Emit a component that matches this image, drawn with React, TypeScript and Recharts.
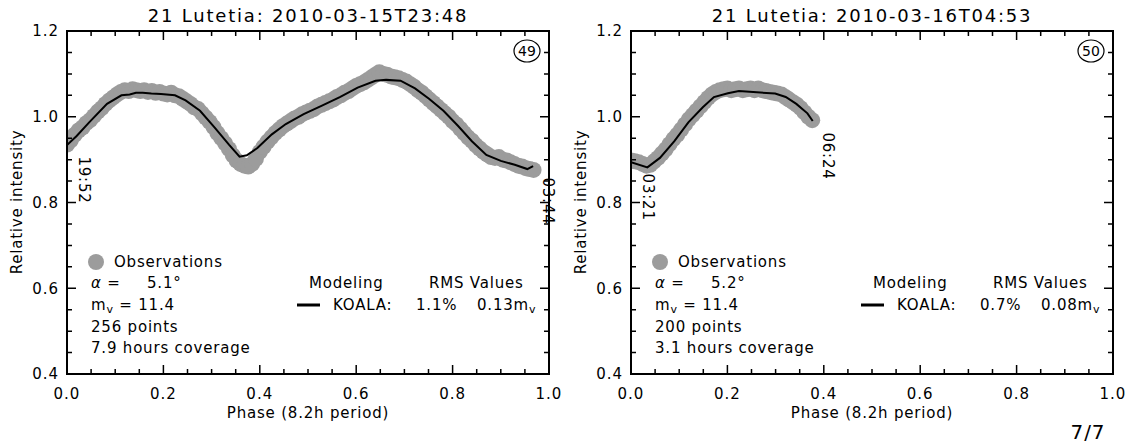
import { ComposedChart, Scatter, XAxis, YAxis, ReferenceDot } from "recharts";

// phase, relative intensity
const obs49: [number, number][] = [
  [0.0, 0.935], [0.008, 0.945], [0.016, 0.958], [0.024, 0.968], [0.032, 0.975], [0.04, 0.985],
  [0.048, 0.992], [0.056, 1.002], [0.064, 1.012], [0.072, 1.02], [0.08, 1.03], [0.088, 1.038],
  [0.096, 1.045], [0.104, 1.052], [0.112, 1.058], [0.12, 1.062], [0.128, 1.06], [0.136, 1.064],
  [0.144, 1.062], [0.152, 1.06], [0.16, 1.062], [0.168, 1.058], [0.176, 1.06], [0.184, 1.056],
  [0.192, 1.058], [0.2, 1.054], [0.208, 1.052], [0.216, 1.056], [0.224, 1.05], [0.232, 1.048],
  [0.24, 1.042], [0.248, 1.036], [0.256, 1.03], [0.264, 1.022], [0.272, 1.018], [0.28, 1.008],
  [0.288, 0.998], [0.296, 0.988], [0.304, 0.976], [0.312, 0.962], [0.32, 0.95], [0.328, 0.938],
  [0.336, 0.925], [0.344, 0.91], [0.352, 0.898], [0.36, 0.89], [0.368, 0.886], [0.376, 0.884],
  [0.384, 0.89], [0.392, 0.902], [0.4, 0.918], [0.408, 0.93], [0.416, 0.942], [0.424, 0.952],
  [0.432, 0.962], [0.44, 0.97], [0.448, 0.978], [0.456, 0.984], [0.464, 0.99], [0.472, 0.996],
  [0.48, 1.0], [0.488, 1.006], [0.496, 1.01], [0.504, 1.014], [0.512, 1.018], [0.52, 1.024],
  [0.528, 1.028], [0.536, 1.032], [0.544, 1.036], [0.552, 1.04], [0.56, 1.046], [0.568, 1.05],
  [0.576, 1.056], [0.584, 1.06], [0.592, 1.066], [0.6, 1.072], [0.608, 1.076], [0.616, 1.08],
  [0.624, 1.086], [0.632, 1.092], [0.64, 1.098], [0.648, 1.104], [0.656, 1.1], [0.664, 1.098],
  [0.672, 1.094], [0.68, 1.092], [0.688, 1.09], [0.696, 1.086], [0.704, 1.082], [0.712, 1.076],
  [0.72, 1.07], [0.728, 1.062], [0.736, 1.056], [0.744, 1.048], [0.752, 1.04], [0.76, 1.032],
  [0.768, 1.024], [0.776, 1.016], [0.784, 1.008], [0.792, 1.0], [0.8, 0.99], [0.808, 0.982],
  [0.816, 0.972], [0.824, 0.962], [0.832, 0.952], [0.84, 0.944], [0.848, 0.934], [0.856, 0.926],
  [0.864, 0.918], [0.872, 0.912], [0.88, 0.906], [0.888, 0.904], [0.896, 0.906], [0.904, 0.9],
  [0.912, 0.898], [0.92, 0.894], [0.928, 0.89], [0.936, 0.886], [0.944, 0.884], [0.952, 0.88],
  [0.96, 0.878], [0.968, 0.876],
];

const model49: [number, number][] = [
  [0.0, 0.934], [0.02, 0.955], [0.046, 0.987], [0.083, 1.03], [0.113, 1.05], [0.13, 1.052],
  [0.143, 1.056], [0.157, 1.056], [0.175, 1.054], [0.195, 1.053], [0.224, 1.05], [0.246, 1.038],
  [0.276, 1.014], [0.306, 0.975], [0.336, 0.935], [0.358, 0.907], [0.373, 0.91], [0.395, 0.927],
  [0.425, 0.959], [0.454, 0.983], [0.491, 1.006], [0.529, 1.026], [0.566, 1.046], [0.603, 1.068],
  [0.64, 1.084], [0.662, 1.086], [0.692, 1.084], [0.722, 1.066], [0.751, 1.042], [0.781, 1.014],
  [0.811, 0.979], [0.84, 0.943], [0.87, 0.911], [0.9, 0.897], [0.929, 0.888], [0.955, 0.878],
  [0.967, 0.885],
];

const obs50: [number, number][] = [
  [0.0, 0.898], [0.008, 0.896], [0.016, 0.894], [0.024, 0.89], [0.032, 0.886], [0.04, 0.888],
  [0.048, 0.896], [0.056, 0.904], [0.064, 0.914], [0.072, 0.924], [0.08, 0.936], [0.088, 0.948],
  [0.096, 0.958], [0.104, 0.97], [0.112, 0.982], [0.12, 0.994], [0.128, 1.004], [0.136, 1.014],
  [0.144, 1.024], [0.152, 1.034], [0.16, 1.044], [0.168, 1.052], [0.176, 1.058], [0.184, 1.062],
  [0.192, 1.064], [0.2, 1.066], [0.208, 1.062], [0.216, 1.064], [0.224, 1.066], [0.232, 1.062],
  [0.24, 1.064], [0.248, 1.066], [0.256, 1.062], [0.264, 1.066], [0.272, 1.062], [0.28, 1.06],
  [0.288, 1.058], [0.296, 1.056], [0.304, 1.054], [0.312, 1.052], [0.32, 1.046], [0.328, 1.04],
  [0.336, 1.034], [0.344, 1.028], [0.352, 1.02], [0.36, 1.01], [0.368, 1.0], [0.376, 0.992],
];

const model50: [number, number][] = [
  [0.0, 0.894], [0.034, 0.882], [0.06, 0.904], [0.09, 0.943], [0.119, 0.987], [0.149, 1.022],
  [0.172, 1.046], [0.201, 1.055], [0.224, 1.06], [0.261, 1.057], [0.299, 1.054], [0.321, 1.046],
  [0.343, 1.03], [0.366, 1.008], [0.377, 0.99],
];

const titles = ["21 Lutetia: 2010-03-15T23:48", "21 Lutetia: 2010-03-16T04:53"];
const panelIds = ["49", "50"];
const timeLabels = [["19:52", "03:44"], ["03:21", "06:24"]];
const alphas = ["5.1°", "5.2°"];
const magnitudes = ["11.4", "11.4"];
const pointCounts = ["256 points", "200 points"];
const coverage = ["7.9 hours coverage", "3.1 hours coverage"];
const rmsPercent = ["1.1%", "0.7%"];
const rmsMag = ["0.13", "0.08"];

const xTicks = [0, 0.05, 0.1, 0.15, 0.2, 0.25, 0.3, 0.35, 0.4, 0.45, 0.5, 0.55, 0.6, 0.65, 0.7, 0.75, 0.8, 0.85, 0.9, 0.95, 1.0];
const xLabelled = [0, 0.2, 0.4, 0.6, 0.8, 1.0];
const yTicks = [0.4, 0.45, 0.5, 0.55, 0.6, 0.65, 0.7, 0.75, 0.8, 0.85, 0.9, 0.95, 1.0, 1.05, 1.1, 1.15, 1.2];
const yLabelled = [0.4, 0.6, 0.8, 1.0, 1.2];

const F = "'DejaVu Sans', sans-serif";
const W = 566;
const H = 447;
const M = { top: 31, right: 17, bottom: 43, left: 0 };
const YW = 67;
const XH = 30;
const PW = W - M.right - M.left - YW;
const PH = H - M.top - M.bottom - XH;
const X_MARGIN = 14;
const Y_MARGIN = 8;
const MAJOR = 9;
const MINOR = 5;
const GREY = "#9c9c9c";
const chartLefts = [0, 564];

const toPts = (a: [number, number][]) => a.map(([p, v]) => ({ p, v }));
const noDot = () => <g />;
const near = (a: number, b: number) => Math.abs(a - b) < 1e-6;
const isLabelled = (list: number[], v: number) => list.some((t) => near(t, v));

// x tick: label below, inward tick marks at bottom and top of the box
function XTick(props: any) {
  const { x, y, payload } = props;
  const base = y - X_MARGIN;
  const top = base - PH;
  const major = isLabelled(xLabelled, payload.value);
  const len = major ? MAJOR : MINOR;
  return (
    <g>
      <path d={`M${x},${base}V${base - len}M${x},${top}V${top + len}`} stroke="#000" strokeWidth={1.5} fill="none" />
      {major && (
        <text x={x} y={y} dy="0.71em" textAnchor="middle" fontFamily={F} fontSize={15} letterSpacing={1} fill="#000">
          {payload.value.toFixed(1)}
        </text>
      )}
    </g>
  );
}

// y tick: label on the left, inward tick marks on left and right of the box
function YTick(props: any) {
  const { x, y, payload } = props;
  const base = x + Y_MARGIN;
  const major = isLabelled(yLabelled, payload.value);
  const len = major ? MAJOR : MINOR;
  return (
    <g>
      <path d={`M${base},${y}H${base + len}M${base + PW},${y}H${base + PW - len}`} stroke="#000" strokeWidth={1.5} fill="none" />
      {major && (
        <text x={x} y={y} dy="0.355em" textAnchor="end" fontFamily={F} fontSize={15} letterSpacing={1} fill="#000">
          {payload.value.toFixed(1)}
        </text>
      )}
    </g>
  );
}

function timeShape(label: string, dx: number, dy: number) {
  return (props: any) => {
    const x = props.cx + dx;
    const y = props.cy + dy;
    return (
      <text x={x} y={y} transform={`rotate(90 ${x} ${y})`} textAnchor="middle" dominantBaseline="central" fontFamily={F} fontSize={15} letterSpacing={0.8} fill="#000">
        {label}
      </text>
    );
  };
}

function Panel({ i, obs, model }: { i: number; obs: [number, number][]; model: [number, number][] }) {
  const first = model[0];
  const last = model[model.length - 1];
  return (
    <div style={{ position: "absolute", left: chartLefts[i], top: 0 }}>
      <ComposedChart width={W} height={H} margin={M}>
        <XAxis xAxisId="main" type="number" dataKey="p" domain={[0, 1]} allowDataOverflow ticks={xTicks} interval={0}
          tickLine={false} axisLine={false} tickSize={0} tickMargin={X_MARGIN} height={XH} tick={XTick} />
        <YAxis yAxisId="main" type="number" dataKey="v" domain={[0.4, 1.2]} allowDataOverflow ticks={yTicks} interval={0}
          tickLine={false} axisLine={false} tickSize={0} tickMargin={Y_MARGIN} width={YW} tick={YTick} />

        <Scatter xAxisId="main" yAxisId="main" data={toPts(obs)} isAnimationActive={false}
          shape={(p: any) => <circle cx={p.cx} cy={p.cy} r={8} fill={GREY} />} />
        <Scatter xAxisId="main" yAxisId="main" data={toPts(model)} isAnimationActive={false}
          line={{ stroke: "#000", strokeWidth: 2 }} lineType="joint" shape={noDot} />

        <ReferenceDot xAxisId="main" yAxisId="main" x={first[0]} y={first[1]} r={1} ifOverflow="visible" shape={timeShape(timeLabels[i][0], 17, 35)} />
        <ReferenceDot xAxisId="main" yAxisId="main" x={last[0]} y={last[1]} r={1} ifOverflow="visible" shape={timeShape(timeLabels[i][1], 15, 35)} />
      </ComposedChart>
    </div>
  );
}

function PanelText({ i }: { i: number }) {
  const x0 = chartLefts[i] + YW;
  const x1 = chartLefts[i] + W - M.right;
  const cx = (x0 + x1) / 2;
  const y0 = M.top;
  const y1 = M.top + PH;
  const t = { fontFamily: F, fontSize: 15, letterSpacing: 0.8, fill: "#000", dominantBaseline: "central" as const };
  return (
    <g>
      {/* plot box drawn as four filled bars */}
      <rect x={x0 - 1} y={y0 - 1} width={PW + 2} height={2} fill="#000" />
      <rect x={x0 - 1} y={y1 - 1} width={PW + 2} height={2} fill="#000" />
      <rect x={x0 - 1} y={y0 - 1} width={2} height={PH + 2} fill="#000" />
      <rect x={x1 - 1} y={y0 - 1} width={2} height={PH + 2} fill="#000" />

      <text x={cx} y={15} textAnchor="middle" {...t} fontSize={18} letterSpacing={1.8}>{titles[i]}</text>
      <ellipse cx={x1 - 22} cy={51} rx={13} ry={11} fill="none" stroke="#000" strokeWidth={1.2} />
      <text x={x1 - 22} y={51} textAnchor="middle" {...t} fontSize={14} letterSpacing={0}>{panelIds[i]}</text>
      <text x={x0 - 50} y={202} textAnchor="middle" transform={`rotate(-90 ${x0 - 50} 202)`} {...t}>Relative intensity</text>
      <text x={cx} y={413} textAnchor="middle" {...t}>Phase (8.2h period)</text>

      <circle cx={x0 + 29} cy={262} r={8} fill={GREY} />
      <text x={x0 + 47} y={262} {...t}>Observations</text>
      <text x={x0 + 24} y={283} {...t}><tspan fontStyle="italic">α</tspan> =</text>
      <text x={x0 + 80} y={283} {...t}>{alphas[i]}</text>
      <text x={x0 + 24} y={305} {...t}>m<tspan dy={4} fontSize={11}>v</tspan><tspan dy={-4}> = {magnitudes[i]}</tspan></text>
      <text x={x0 + 24} y={327} {...t}>{pointCounts[i]}</text>
      <text x={x0 + 24} y={348} {...t}>{coverage[i]}</text>

      <text x={x1 - 240} y={283} {...t}>Modeling</text>
      <text x={x1 - 120} y={283} {...t}>RMS Values</text>
      <line x1={x1 - 252} x2={x1 - 229} y1={305} y2={305} stroke="#000" strokeWidth={3} />
      <text x={x1 - 216} y={305} {...t}>KOALA:</text>
      <text x={x1 - 133} y={305} {...t}>{rmsPercent[i]}</text>
      <text x={x1 - 72} y={305} {...t}>{rmsMag[i]}m<tspan dy={4} fontSize={11}>v</tspan></text>
    </g>
  );
}

export default function App() {
  return (
    <div style={{ position: "absolute", left: 0, top: 0, width: 1133, height: 447, background: "#fff", overflow: "hidden" }}>
      <Panel i={0} obs={obs49} model={model49} />
      <Panel i={1} obs={obs50} model={model50} />
      <svg width={1133} height={447} style={{ position: "absolute", left: 0, top: 0, pointerEvents: "none" }}>
        <PanelText i={0} />
        <PanelText i={1} />
        <text x={1088} y={432} textAnchor="middle" dominantBaseline="central" fontFamily={F} fontSize={20} letterSpacing={1} fill="#000">7/7</text>
      </svg>
    </div>
  );
}
